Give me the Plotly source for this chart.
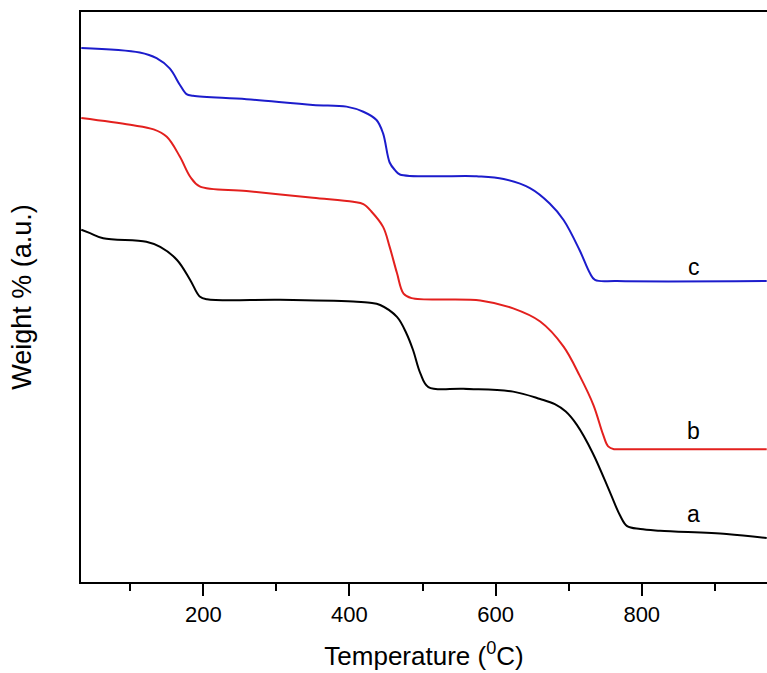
import plotly.graph_objects as go

# Temperature (°C) and weight (a.u.)
temp_a = [33, 45, 63, 122, 141, 164, 182, 195, 205, 305, 405, 428, 442, 465, 478, 487, 497, 508,
          556, 624, 661, 681, 696, 711, 733, 757, 770, 780, 798, 825, 916, 971]
weight_a = [61.8, 61.2, 60.3, 59.7, 58.8, 56.5, 53.0, 50.1, 49.6, 49.5, 49.2, 49.0, 48.6, 46.5,
            43.6, 40.7, 36.6, 34.2, 33.9, 33.4, 32.1, 31.2, 29.9, 27.6, 22.6, 15.6, 11.75, 9.8,
            9.3, 9.0, 8.4, 7.7]

temp_b = [33, 100, 132, 150, 168, 182, 195, 259, 350, 405, 419, 430, 446, 455, 465, 474, 485,
          579, 624, 661, 693, 715, 734, 747, 754, 762, 770, 971]
weight_b = [81.4, 80.2, 79.4, 78.1, 74.6, 71.1, 69.4, 68.6, 67.4, 66.7, 66.3, 65.0, 62.3,
            58.8, 54.2, 50.6, 49.8, 49.4, 48.0, 45.7, 41.3, 36.2, 31.0, 25.9, 23.8, 23.3, 23.3, 23.3]

temp_c = [33, 113, 136, 154, 168, 177, 186, 259, 350, 396, 419, 437, 446, 455, 462, 469, 574,
          611, 647, 674, 693, 715, 729, 736, 766, 971]
weight_c = [93.7, 92.9, 91.9, 90.1, 87.2, 85.6, 85.3, 84.7, 83.7, 83.4, 82.5, 81.05, 78.7, 73.6,
            72.3, 71.5, 71.2, 70.7, 69.1, 66.4, 63.5, 58.2, 54.2, 53.0, 52.8, 52.8]

series_names = ["a", "b", "c"]
series_colors = ["#000000", "#e3201e", "#1c1ccc"]
label_x = [871, 871, 871]
label_y = [12.0, 26.5, 55.2]

tick_vals = [200, 400, 600, 800]

FONT = "Arial, Liberation Sans, sans-serif"

fig = go.Figure()
for t, w, name, col in zip([temp_a, temp_b, temp_c], [weight_a, weight_b, weight_c],
                           series_names, series_colors):
    fig.add_trace(go.Scatter(x=t, y=w, mode="lines", name=name,
                             line=dict(color=col, width=2, shape="spline", smoothing=1.0),
                             showlegend=False, hoverinfo="skip"))

for name, lx, ly in zip(series_names, label_x, label_y):
    fig.add_annotation(x=lx, y=ly, text=name, showarrow=False, xanchor="center",
                       yanchor="middle", font=dict(family=FONT, size=23, color="black"))

fig.update_layout(
    width=767, height=673,
    margin=dict(l=81, r=0, t=12, b=91, pad=0),
    paper_bgcolor="white", plot_bgcolor="white",
    font=dict(family=FONT, color="black"),
    xaxis=dict(range=[32.6, 971.4], tickvals=tick_vals, ticktext=[str(v) for v in tick_vals],
               ticks="outside", ticklen=12, tickwidth=2, tickcolor="black",
               showline=True, linewidth=2, linecolor="black", mirror=True,
               showgrid=False, zeroline=False,
               tickfont=dict(family=FONT, size=22, color="black"),
               minor=dict(tickvals=[100, 300, 500, 700, 900], ticks="outside", ticklen=7,
                          tickwidth=2, tickcolor="black", showgrid=False),
               title=dict(text="Temperature (<sup>0</sup>C)",
                          font=dict(family=FONT, size=26, color="black"), standoff=20)),
    yaxis=dict(range=[0, 100], showticklabels=False, ticks="", showline=True, linewidth=2,
               linecolor="black", mirror=False, showgrid=False, zeroline=False,
               title=dict(text="Weight % (a.u.)", font=dict(family=FONT, size=27, color="black"),
                          standoff=40)),
)

fig.write_html("out.html")
